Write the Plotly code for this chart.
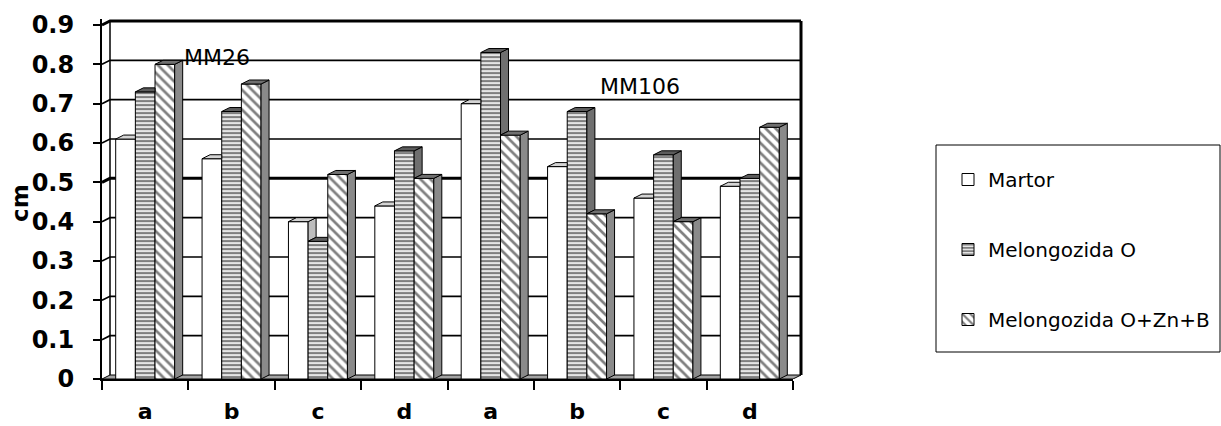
import plotly.graph_objects as go

# ---- data -------------------------------------------------------------
categories = ["a", "b", "c", "d", "a", "b", "c", "d"]
series_names = ["Martor", "Melongozida O", "Melongozida O+Zn+B"]
martor = [0.61, 0.56, 0.40, 0.44, 0.70, 0.54, 0.46, 0.49]
melongozida_o = [0.73, 0.68, 0.35, 0.58, 0.83, 0.68, 0.57, 0.51]
melongozida_o_zn_b = [0.80, 0.75, 0.52, 0.51, 0.62, 0.42, 0.40, 0.64]
y_ticks = [0, 0.1, 0.2, 0.3, 0.4, 0.5, 0.6, 0.7, 0.8, 0.9]
y_tick_labels = ["0", "0.1", "0.2", "0.3", "0.4", "0.5", "0.6", "0.7", "0.8", "0.9"]
group_labels = ["MM26", "MM106"]
y_title = "cm"

# ---- geometry ---------------------------------------------------------
W, H = 1221, 426
X_L, X_R = 102, 793          # pixel span of the category axis
Y_0, Y_09 = 379, 25          # pixel rows of 0 and 0.9
Y_MAX = 0.915
ppu_y = (Y_0 - Y_09) / 0.9
y_top_px = Y_0 - Y_MAX * ppu_y
n = len(categories)
ppu_x = (X_R - X_L) / n
DEPTH_X, DEPTH_Y = 8, 4       # pseudo-3D depth in pixels
dx = DEPTH_X / ppu_x
dy = DEPTH_Y / ppu_y
BARGAP = 0.317
bw = (1 - BARGAP) / 3

FONT = "DejaVu Sans"
x_pos = list(range(n))
series = [martor, melongozida_o, melongozida_o_zn_b]

fig = go.Figure()

# front faces of the bars
patterns = [
    dict(shape=""),
    dict(shape="-", fgcolor="black", bgcolor="white", size=4, solidity=0.6),
    dict(shape="\\", fgcolor="black", bgcolor="white", size=7, solidity=0.38),
]
for k, (name, vals) in enumerate(zip(series_names, series)):
    fig.add_trace(go.Bar(
        x=x_pos, y=vals, name=name, legendgroup=f"g{k}",
        marker=dict(color="white", line=dict(color="black", width=1),
                    pattern=patterns[k]),
        hoverinfo="skip",
    ))

# side and top faces for the depth effect
side_fill = ["#bdbdbd", "#6f6f6f", "#8a8a8a"]
top_fill = ["#d4d4d4", "#5c5c5c", "#707070"]
for k, vals in enumerate(series):
    sx, sy, tx, ty = [], [], [], []
    for i, v in enumerate(vals):
        c = i + (k - 1) * bw
        L, R = c - bw / 2, c + bw / 2
        nxt = series[k + 1][i] if k < 2 else 0.0
        # side face, visible only above the neighbouring bar
        if nxt < v:
            lo = nxt
            sx += [R, R, R + dx, R + dx, R, None]
            sy += [lo, v, v + dy, lo + dy, lo, None]
            tx += [L, R, R + dx, L + dx, L, None]
            ty += [v, v, v + dy, v + dy, v, None]
        else:
            tx += [L, R, R, L + dx, L, None]
            ty += [v, v, v + dy, v + dy, v, None]
    fig.add_trace(go.Scatter(x=sx, y=sy, mode="lines", fill="toself",
                             fillcolor=side_fill[k], line=dict(color="black", width=1),
                             showlegend=False, hoverinfo="skip"))
    fig.add_trace(go.Scatter(x=tx, y=ty, mode="lines", fill="toself",
                             fillcolor=top_fill[k], line=dict(color="black", width=1),
                             showlegend=False, hoverinfo="skip"))

# ---- back wall, floor and gridlines ------------------------------------
shapes = []
xf, xb, xr = X_L / W, (X_L + DEPTH_X) / W, (X_R + DEPTH_X) / W
xfr = X_R / W
shapes.append(dict(type="path", xref="paper", yref="y", layer="below",
                   path=f"M {xf},0 L {xfr},0 L {xr},{dy} L {xb},{dy} Z",
                   fillcolor="#a3a3a3", line=dict(color="black", width=1)))
for v in y_ticks[1:]:
    wdt = 3 if v in (0.5, 0.9) else 1.6
    shapes.append(dict(type="path", xref="paper", yref="y", layer="below",
                       path=f"M {xf},{v} L {xb},{v + dy} L {xr},{v + dy}",
                       line=dict(color="black", width=wdt)))
shapes.append(dict(type="line", xref="paper", yref="y", layer="below",
                   x0=xb, x1=xb, y0=dy, y1=y_ticks[-1] + dy,
                   line=dict(color="black", width=1.5)))
shapes.append(dict(type="line", xref="paper", yref="y", layer="below",
                   x0=xr, x1=xr, y0=dy, y1=y_ticks[-1] + dy,
                   line=dict(color="black", width=3)))
# legend frame
shapes.append(dict(type="rect", xref="paper", yref="paper",
                   x0=936 / W, x1=1220 / W, y0=1 - 352 / H, y1=1 - 145 / H,
                   line=dict(color="black", width=1)))

annotations = [
    dict(text=group_labels[0], x=217 / W, y=1 - 57 / H, xref="paper", yref="paper",
         xanchor="center", yanchor="middle", showarrow=False,
         font=dict(family=FONT, size=22, color="black")),
    dict(text=group_labels[1], x=640 / W, y=1 - 87 / H, xref="paper", yref="paper",
         xanchor="center", yanchor="middle", showarrow=False,
         font=dict(family=FONT, size=22, color="black")),
    dict(text=y_title, x=20 / W, y=1 - 203 / H, xref="paper", yref="paper",
         xanchor="center", yanchor="middle", showarrow=False, textangle=-90,
         font=dict(family=FONT, size=23, color="black", weight="bold")),
]

fig.update_layout(
    width=W, height=H, margin=dict(l=0, r=0, t=0, b=0),
    paper_bgcolor="white", plot_bgcolor="rgba(0,0,0,0)",
    barmode="group", bargap=BARGAP, bargroupgap=0,
    shapes=shapes, annotations=annotations,
    xaxis=dict(domain=[X_L / W, X_R / W], range=[-0.5, n - 0.5], automargin=False,
               tickmode="array", tickvals=x_pos, ticktext=categories,
               ticks="", showline=True, linecolor="black", linewidth=2,
               showgrid=False, zeroline=False, ticklabelstandoff=12,
               tickfont=dict(family=FONT, size=22, color="black", weight="bold"),
               minor=dict(tickmode="array", tickvals=[i - 0.5 for i in range(n + 1)],
                          ticks="outside", ticklen=9, tickwidth=2, tickcolor="black",
                          showgrid=False)),
    yaxis=dict(domain=[(H - Y_0) / H, (H - y_top_px) / H], range=[0, Y_MAX],
               automargin=False,
               tickmode="array", tickvals=y_ticks, ticktext=y_tick_labels,
               ticks="outside", ticklen=7, tickwidth=2, tickcolor="black",
               showline=True, linecolor="black", linewidth=2,
               showgrid=False, zeroline=False, ticklabelstandoff=14,
               tickfont=dict(family=FONT, size=24, color="black", weight="bold")),
    legend=dict(x=948 / W, y=1 - 160 / H, xanchor="left", yanchor="top",
                bgcolor="rgba(0,0,0,0)", borderwidth=0, traceorder="grouped",
                tracegroupgap=41, font=dict(family=FONT, size=20, color="black")),
    showlegend=True,
)

fig.write_html("out.html")
